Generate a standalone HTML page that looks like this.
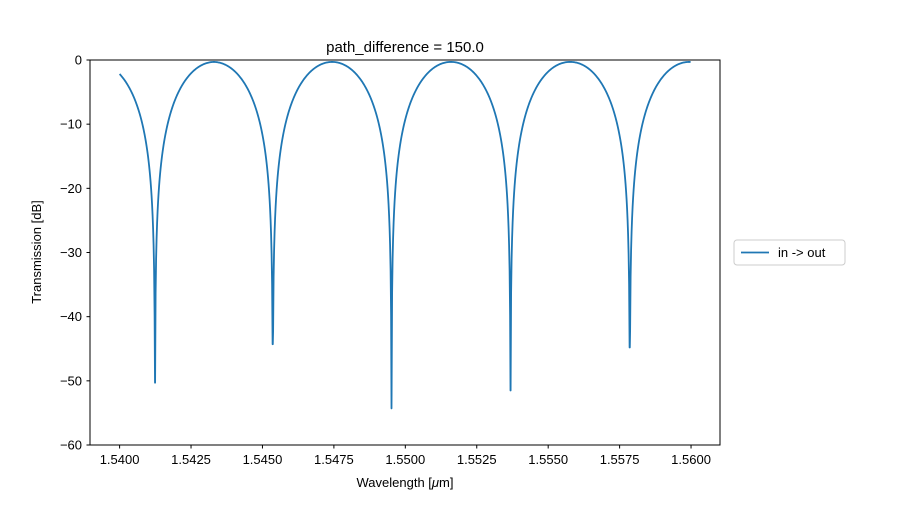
<!DOCTYPE html>
<html><head><meta charset="utf-8"><style>
body{margin:0;background:#fff;}
svg{font-family:"Liberation Sans","DejaVu Sans",sans-serif;}
</style></head><body>
<svg id="s" width="900" height="500" xmlns="http://www.w3.org/2000/svg">
<rect width="900" height="500" fill="#fff"/>
<text x="405" y="52" font-size="15" text-anchor="middle">path_difference = 150.0</text>
<g id="ticks" font-size="13" fill="#000"></g>
<path id="curve" fill="none" stroke="#1f77b4" stroke-width="1.8" stroke-linejoin="round"/>
<rect x="90" y="60" width="630" height="385" fill="none" stroke="#000" stroke-width="1"/>
<text x="405" y="487" font-size="13" text-anchor="middle">Wavelength [<tspan font-style="italic">μ</tspan>m]</text>
<text transform="translate(41,252) rotate(-90)" font-size="13" text-anchor="middle">Transmission [dB]</text>
<rect x="734" y="240" width="111" height="25" rx="3" fill="#fff" stroke="#ccc"/>
<line x1="741" y1="252.5" x2="769" y2="252.5" stroke="#1f77b4" stroke-width="1.8"/>
<text x="778" y="257" font-size="13">in -&gt; out</text>
</svg>
<script>
var ns="http://www.w3.org/2000/svg",g=document.getElementById("ticks");
function el(t,a,txt){var e=document.createElementNS(ns,t);for(var k in a)e.setAttribute(k,a[k]);if(txt!=null)e.textContent=txt;g.appendChild(e);}
for(var k=0;k<=6;k++){var y=60+64.167*k;el("line",{x1:86.5,x2:90,y1:y,y2:y,stroke:"#000"});el("text",{x:82,y:y+4.5,"text-anchor":"end"},k==0?"0":"\u2212"+(k*10));}
var xl=["1.5400","1.5425","1.5450","1.5475","1.5500","1.5525","1.5550","1.5575","1.5600"];
for(var k=0;k<9;k++){var x=119.6+71.43*k;el("line",{x1:x,x2:x,y1:445,y2:448.5,stroke:"#000"});el("text",{x:x,y:464,"text-anchor":"middle"},xl[k]);}
var mins=[[155,-50.3],[272.8,-44.3],[391.5,-54.3],[510.5,-51.5],[629.8,-44.8]];
function Y(db){return 60-db*6.4167;}
var pts=[];
for(var x=119.6;x<=691;x+=0.5){var best=0,bd=1e9;for(var i=0;i<5;i++){var d=Math.abs(x-mins[i][0]);if(d<bd){bd=d;best=i;}}
var s=Math.sin(Math.PI*(x-mins[best][0])/118.75);var db=10*Math.log10(s*s+1e-9)-0.3;if(db<mins[best][1])db=mins[best][1];pts.push([x,db]);}
for(var i=0;i<5;i++)pts.push([mins[i][0],mins[i][1]]);
pts.sort(function(a,b){return a[0]-b[0];});
var d="";pts.forEach(function(p,i){d+=(i?"L":"M")+p[0].toFixed(2)+","+Y(p[1]).toFixed(2);});
document.getElementById("curve").setAttribute("d",d);
</script>
</body></html>
